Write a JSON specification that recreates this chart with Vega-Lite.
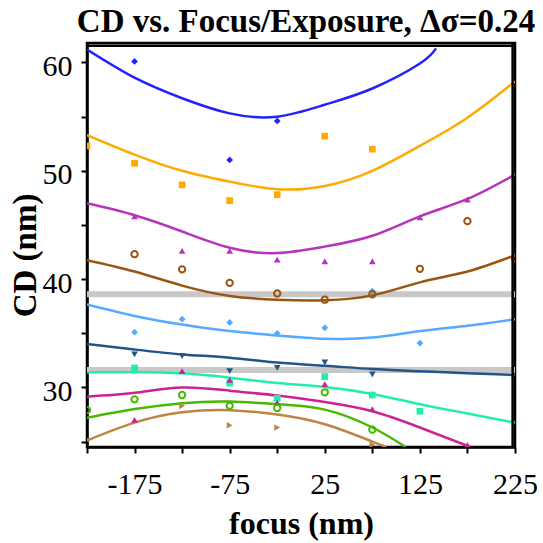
{
  "$schema": "https://vega.github.io/schema/vega-lite/v6.json",
  "width": 428,
  "height": 404,
  "autosize": {"type": "none"},
  "padding": {"left": 87, "top": 43, "right": 28, "bottom": 96},
  "background": "white",
  "title": {"text": "CD vs. Focus/Exposure, Δσ=0.24", "font": "Liberation Serif", "fontSize": 33, "fontWeight": "bold", "color": "black", "anchor": "middle", "offset": 3, "dx": 5},
  "config": {
    "view": {"stroke": "black", "strokeWidth": 2.5},
    "axis": {"grid": false, "domainColor": "black", "domainWidth": 2.5, "tickColor": "black", "tickWidth": 2, "tickSize": 6, "labelFont": "Liberation Serif", "labelFontSize": 30, "labelColor": "black", "titleFont": "Liberation Serif", "titleFontSize": 32, "titleFontWeight": "bold", "titleColor": "black", "labelFlush": false, "labelOverlap": false, "labelBound": false}
  },
  "datasets": {
    "bands": [{"cd": 38.6}, {"cd": 31.6}],
    "frameH": [{"cd": 61.55}],
    "frameV": [{"focus": 222.5}],
    "fits": [
      {"series": "s1", "focus": -225, "cd": 61.2}, {"series": "s1", "focus": -175, "cd": 58.6}, {"series": "s1", "focus": -125, "cd": 56.7}, {"series": "s1", "focus": -75, "cd": 55.3}, {"series": "s1", "focus": -25, "cd": 55.0}, {"series": "s1", "focus": 25, "cd": 56.1}, {"series": "s1", "focus": 75, "cd": 57.6}, {"series": "s1", "focus": 125, "cd": 59.9}, {"series": "s1", "focus": 142, "cd": 61.3},
      {"series": "s2", "focus": -225, "cd": 53.3}, {"series": "s2", "focus": -175, "cd": 51.5}, {"series": "s2", "focus": -125, "cd": 50.0}, {"series": "s2", "focus": -75, "cd": 49.0}, {"series": "s2", "focus": -25, "cd": 48.3}, {"series": "s2", "focus": 25, "cd": 48.6}, {"series": "s2", "focus": 75, "cd": 50.0}, {"series": "s2", "focus": 125, "cd": 52.3}, {"series": "s2", "focus": 175, "cd": 54.9}, {"series": "s2", "focus": 225, "cd": 58.25},
      {"series": "s3", "focus": -225, "cd": 47.0}, {"series": "s3", "focus": -175, "cd": 45.9}, {"series": "s3", "focus": -125, "cd": 44.4}, {"series": "s3", "focus": -75, "cd": 42.9}, {"series": "s3", "focus": -25, "cd": 42.4}, {"series": "s3", "focus": 25, "cd": 43.0}, {"series": "s3", "focus": 75, "cd": 44.0}, {"series": "s3", "focus": 125, "cd": 45.8}, {"series": "s3", "focus": 175, "cd": 47.4}, {"series": "s3", "focus": 225, "cd": 49.65},
      {"series": "s4", "focus": -225, "cd": 41.75}, {"series": "s4", "focus": -175, "cd": 40.7}, {"series": "s4", "focus": -125, "cd": 39.4}, {"series": "s4", "focus": -75, "cd": 38.45}, {"series": "s4", "focus": -25, "cd": 38.1}, {"series": "s4", "focus": 25, "cd": 38.05}, {"series": "s4", "focus": 75, "cd": 38.5}, {"series": "s4", "focus": 125, "cd": 39.7}, {"series": "s4", "focus": 175, "cd": 40.7}, {"series": "s4", "focus": 225, "cd": 42.2},
      {"series": "s5", "focus": -225, "cd": 37.65}, {"series": "s5", "focus": -175, "cd": 36.6}, {"series": "s5", "focus": -125, "cd": 35.8}, {"series": "s5", "focus": -75, "cd": 35.2}, {"series": "s5", "focus": -25, "cd": 34.8}, {"series": "s5", "focus": 25, "cd": 34.5}, {"series": "s5", "focus": 75, "cd": 34.6}, {"series": "s5", "focus": 125, "cd": 35.2}, {"series": "s5", "focus": 175, "cd": 35.7}, {"series": "s5", "focus": 225, "cd": 36.3},
      {"series": "s6", "focus": -225, "cd": 34.0}, {"series": "s6", "focus": -175, "cd": 33.5}, {"series": "s6", "focus": -125, "cd": 33.05}, {"series": "s6", "focus": -75, "cd": 32.75}, {"series": "s6", "focus": -25, "cd": 32.3}, {"series": "s6", "focus": 25, "cd": 32.0}, {"series": "s6", "focus": 75, "cd": 31.7}, {"series": "s6", "focus": 125, "cd": 31.5}, {"series": "s6", "focus": 175, "cd": 31.3}, {"series": "s6", "focus": 225, "cd": 31.15},
      {"series": "s7", "focus": -225, "cd": 31.4}, {"series": "s7", "focus": -175, "cd": 31.4}, {"series": "s7", "focus": -125, "cd": 31.3}, {"series": "s7", "focus": -75, "cd": 30.9}, {"series": "s7", "focus": -25, "cd": 30.4}, {"series": "s7", "focus": 25, "cd": 30.05}, {"series": "s7", "focus": 75, "cd": 29.4}, {"series": "s7", "focus": 125, "cd": 28.45}, {"series": "s7", "focus": 175, "cd": 27.6}, {"series": "s7", "focus": 225, "cd": 26.75},
      {"series": "s8", "focus": -225, "cd": 29.15}, {"series": "s8", "focus": -175, "cd": 29.5}, {"series": "s8", "focus": -125, "cd": 30.0}, {"series": "s8", "focus": -75, "cd": 29.7}, {"series": "s8", "focus": -25, "cd": 29.25}, {"series": "s8", "focus": 25, "cd": 28.65}, {"series": "s8", "focus": 75, "cd": 27.8}, {"series": "s8", "focus": 125, "cd": 26.3}, {"series": "s8", "focus": 178, "cd": 24.5},
      {"series": "s9", "focus": -225, "cd": 27.2}, {"series": "s9", "focus": -175, "cd": 28.0}, {"series": "s9", "focus": -125, "cd": 28.55}, {"series": "s9", "focus": -75, "cd": 28.7}, {"series": "s9", "focus": -25, "cd": 28.45}, {"series": "s9", "focus": 25, "cd": 27.95}, {"series": "s9", "focus": 75, "cd": 26.3}, {"series": "s9", "focus": 110, "cd": 24.5},
      {"series": "s10", "focus": -225, "cd": 25.1}, {"series": "s10", "focus": -175, "cd": 26.75}, {"series": "s10", "focus": -125, "cd": 27.7}, {"series": "s10", "focus": -75, "cd": 27.9}, {"series": "s10", "focus": -25, "cd": 27.5}, {"series": "s10", "focus": 25, "cd": 26.6}, {"series": "s10", "focus": 75, "cd": 25.0}, {"series": "s10", "focus": 90, "cd": 24.5}
    ],
    "meas": [
      {"series": "s1", "focus": -175, "cd": 60.1}, {"series": "s1", "focus": -75, "cd": 51.0}, {"series": "s1", "focus": -25, "cd": 54.6},
      {"series": "s2", "focus": -225, "cd": 52.3}, {"series": "s2", "focus": -175, "cd": 50.7}, {"series": "s2", "focus": -125, "cd": 48.7}, {"series": "s2", "focus": -75, "cd": 47.25}, {"series": "s2", "focus": -25, "cd": 47.8}, {"series": "s2", "focus": 25, "cd": 53.2}, {"series": "s2", "focus": 75, "cd": 52.0},
      {"series": "s3", "focus": -175, "cd": 45.8}, {"series": "s3", "focus": -125, "cd": 42.6}, {"series": "s3", "focus": -75, "cd": 42.6}, {"series": "s3", "focus": -25, "cd": 41.8}, {"series": "s3", "focus": 25, "cd": 41.65}, {"series": "s3", "focus": 75, "cd": 41.65}, {"series": "s3", "focus": 125, "cd": 45.7}, {"series": "s3", "focus": 175, "cd": 47.35},
      {"series": "s4", "focus": -175, "cd": 42.3}, {"series": "s4", "focus": -125, "cd": 40.9}, {"series": "s4", "focus": -75, "cd": 39.65}, {"series": "s4", "focus": -25, "cd": 38.67}, {"series": "s4", "focus": 25, "cd": 38.1}, {"series": "s4", "focus": 75, "cd": 38.6}, {"series": "s4", "focus": 125, "cd": 40.95}, {"series": "s4", "focus": 175, "cd": 45.35}, {"series": "s4", "focus": 225, "cd": 41.9},
      {"series": "s5", "focus": -175, "cd": 35.1}, {"series": "s5", "focus": -125, "cd": 36.3}, {"series": "s5", "focus": -75, "cd": 36.0}, {"series": "s5", "focus": -25, "cd": 35.0}, {"series": "s5", "focus": 25, "cd": 35.5}, {"series": "s5", "focus": 75, "cd": 38.9}, {"series": "s5", "focus": 125, "cd": 34.1},
      {"series": "s6", "focus": -175, "cd": 33.05}, {"series": "s6", "focus": -125, "cd": 32.9}, {"series": "s6", "focus": -75, "cd": 31.5}, {"series": "s6", "focus": -25, "cd": 31.8}, {"series": "s6", "focus": 25, "cd": 32.3}, {"series": "s6", "focus": 75, "cd": 31.2},
      {"series": "s7", "focus": -175, "cd": 31.8}, {"series": "s7", "focus": -75, "cd": 30.4}, {"series": "s7", "focus": -25, "cd": 29.0}, {"series": "s7", "focus": 25, "cd": 31.0}, {"series": "s7", "focus": 75, "cd": 29.3}, {"series": "s7", "focus": 125, "cd": 27.8},
      {"series": "s8", "focus": -175, "cd": 27.0}, {"series": "s8", "focus": -125, "cd": 31.5}, {"series": "s8", "focus": -75, "cd": 30.7}, {"series": "s8", "focus": -25, "cd": 28.6}, {"series": "s8", "focus": 25, "cd": 30.3}, {"series": "s8", "focus": 75, "cd": 28.0}, {"series": "s8", "focus": 175, "cd": 24.7},
      {"series": "s9", "focus": -225, "cd": 27.9}, {"series": "s9", "focus": -175, "cd": 28.9}, {"series": "s9", "focus": -125, "cd": 29.3}, {"series": "s9", "focus": -75, "cd": 28.3}, {"series": "s9", "focus": -25, "cd": 28.1}, {"series": "s9", "focus": 25, "cd": 29.55}, {"series": "s9", "focus": 75, "cd": 26.1},
      {"series": "s10", "focus": -225, "cd": 25.2}, {"series": "s10", "focus": -125, "cd": 28.3}, {"series": "s10", "focus": -75, "cd": 26.5}, {"series": "s10", "focus": -25, "cd": 26.3}, {"series": "s10", "focus": 75, "cd": 24.7}
    ]
  },
  "layer": [
    {
      "data": {"name": "bands"},
      "mark": {"type": "rule", "color": "#c8c8c8", "strokeWidth": 6},
      "encoding": {
        "y": {"field": "cd", "type": "quantitative", "scale": {"domain": [24.5, 61.8], "nice": false, "zero": false}}
      }
    },
    {
      "data": {"name": "fits"},
      "mark": {"type": "line", "interpolate": "natural", "strokeWidth": 2.5, "clip": true},
      "encoding": {
        "x": {"field": "focus", "type": "quantitative", "scale": {"domain": [-225, 225], "nice": false, "zero": false},
              "axis": {"title": "focus (nm)", "values": [-225, -175, -125, -75, -25, 25, 75, 125, 175, 225], "labelExpr": "indexof([-175, -75, 25, 125, 225], datum.value) >= 0 ? replace(datum.label, '−', '-') : ''", "labelPadding": 16, "titlePadding": 9}},
        "y": {"field": "cd", "type": "quantitative", "scale": {"domain": [24.5, 61.8], "nice": false, "zero": false},
              "axis": {"title": "CD (nm)", "values": [25, 30, 35, 40, 45, 50, 55, 60], "labelExpr": "datum.value % 10 == 0 ? datum.label : ''", "labelPadding": 9, "titlePadding": 0, "labelOffset": 4, "titleY": 212, "titleFontSize": 33}},
        "color": {"field": "series", "type": "nominal", "legend": null,
                  "scale": {"domain": ["s1", "s2", "s3", "s4", "s5", "s6", "s7", "s8", "s9", "s10"],
                            "range": ["#2222ff", "#ffaa00", "#b733bb", "#995511", "#55aaff", "#225588", "#22eeaa", "#cc2299", "#44bb00", "#c08545"]}}
      }
    },
    {
      "data": {"name": "meas"},
      "transform": [{"filter": "datum.series != 's4' && datum.series != 's9'"}],
      "mark": {"type": "point", "filled": true, "size": 45, "opacity": 1, "clip": true},
      "encoding": {
        "x": {"field": "focus", "type": "quantitative"},
        "y": {"field": "cd", "type": "quantitative"},
        "color": {"field": "series", "type": "nominal", "legend": null},
        "shape": {"field": "series", "type": "nominal", "legend": null,
                  "scale": {"domain": ["s1", "s2", "s3", "s4", "s5", "s6", "s7", "s8", "s9", "s10"],
                            "range": ["diamond", "square", "triangle-up", "circle", "diamond", "triangle-down", "square", "triangle-up", "circle", "triangle-right"]}}
      }
    },
    {
      "data": {"name": "meas"},
      "transform": [{"filter": "datum.series == 's4' || datum.series == 's9'"}],
      "mark": {"type": "point", "filled": false, "size": 40, "strokeWidth": 2, "opacity": 1, "clip": true},
      "encoding": {
        "x": {"field": "focus", "type": "quantitative"},
        "y": {"field": "cd", "type": "quantitative"},
        "color": {"field": "series", "type": "nominal", "legend": null},
        "shape": {"field": "series", "type": "nominal", "legend": null}
      }
    },
    {
      "data": {"name": "frameH"},
      "mark": {"type": "rule", "color": "black", "strokeWidth": 2.5},
      "encoding": {
        "y": {"field": "cd", "type": "quantitative"}
      }
    },
    {
      "data": {"name": "frameV"},
      "mark": {"type": "rule", "color": "black", "strokeWidth": 2.5},
      "encoding": {
        "x": {"field": "focus", "type": "quantitative"}
      }
    }
  ]
}
